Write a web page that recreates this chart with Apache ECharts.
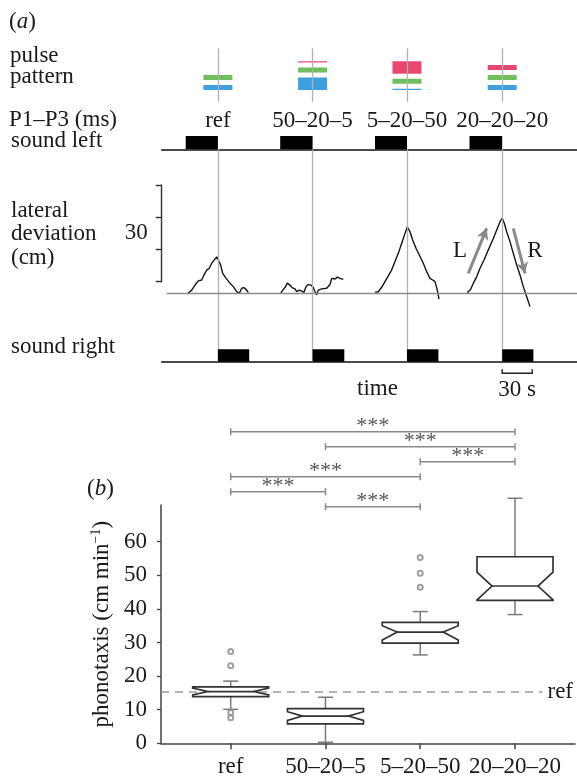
<!DOCTYPE html>
<html><head><meta charset="utf-8">
<script src="https://cdn.jsdelivr.net/npm/echarts@6/dist/echarts.min.js"></script>
<style>html,body{margin:0;padding:0;background:#fff}#c{width:577px;height:780px}</style>
</head><body><div id="c"></div>
<script>
// ---------- data ----------
const categories = ['ref', '50–20–5', '5–20–50', '20–20–20'];
// pulse durations (ms): P1 (blue, bottom), P2 (green), P3 (red, top)
const pulseP1 = [20, 50, 5, 20];
const pulseP2 = [20, 20, 20, 20];
const pulseP3 = [0, 5, 50, 20];
// stimulus timing (s)
const soundLeftStart = [24, 118.5, 213.3, 307.8];
const soundSwitch = [56.2, 150.9, 245.3, 340.5];
const soundRightEnd = [87.5, 182.6, 276.7, 371.7];
// lateral deviation traces [time s, cm]
const traceRef = [[25.6,-0.2],[30.0,1.0],[33.3,2.6],[36.6,3.9],[40.0,4.2],[42.3,5.8],[45.0,7.3],[47.6,7.9],[50.0,9.5],[51.6,10.0],[55.0,11.5],[56.6,10.5],[59.0,8.9],[61.0,6.3],[63.3,5.2],[65.0,4.7],[68.3,3.2],[71.6,2.1],[75.0,0.5],[77.6,0.0],[80.0,1.6],[82.3,1.8],[85.0,1.0],[86.6,0.2]];
const trace50205 = [[119.0,0.0],[121.0,1.0],[123.3,1.8],[125.6,3.2],[128.3,2.6],[130.3,1.8],[133.3,1.4],[135.0,0.5],[137.6,1.0],[140.0,0.7],[142.3,0.3],[144.3,2.1],[146.6,2.8],[149.3,2.6],[151.6,1.8],[153.3,0.5],[155.0,-0.5],[156.6,1.0],[160.0,1.4],[165.0,1.6],[168.3,2.8],[170.0,4.7],[173.3,4.5],[175.6,5.1],[178.3,4.7],[181.6,4.4]];
const trace52050 = [[213.3,0.3],[216.6,0.5],[220.0,1.9],[223.3,3.7],[226.6,5.5],[230.0,7.4],[233.3,10.0],[236.6,12.6],[240.0,15.8],[243.3,18.9],[245.6,21.0],[248.3,19.4],[251.0,16.8],[254.3,14.2],[257.6,12.1],[261.6,9.5],[265.0,6.8],[268.3,4.7],[271.0,4.2],[273.3,3.7],[275.6,1.0],[277.3,-1.8]];
const trace202020 = [[305.6,0.2],[309.0,1.3],[311.6,3.2],[315.0,5.2],[318.3,7.9],[322.3,10.5],[326.6,13.7],[331.0,16.8],[335.0,20.0],[338.3,22.6],[340.6,23.7],[342.6,22.1],[345.0,19.4],[348.3,16.3],[351.6,12.6],[355.0,8.9],[358.3,5.8],[361.6,2.1],[365.0,-1.1],[368.3,-4.2]];
const arrowL = [[306.6, 6.3], [325.0, 20.5]];
const arrowR = [[351.6, 20.5], [363.3, 6.3]];
const scaleBarSeconds = 30;
const scaleBarCm = 30;
// phonotaxis box plot (cm/min)
const whiskerLow  = [10.1, 0.3, 26.3, 38.3];
const q1          = [13.9, 5.8, 29.8, 42.5];
const median      = [15.4, 8.1, 33.1, 46.8];
const q3          = [16.8, 10.3, 36.0, 55.5];
const whiskerHigh = [18.5, 13.7, 39.2, 72.9];
const notchLow    = [14.4, 6.8, 30.7, 42.7];
const notchHigh   = [16.4, 9.4, 35.0, 50.9];
const outliers = [[0,27.3],[0,23.1],[0,9.2],[0,7.6],[2,55.3],[2,50.6],[2,46.4]];
const sigPairs = [[0,3],[1,3],[2,3],[0,2],[0,1],[1,2]];
const sigLabels = ['***','***','***','***','***','***'];
const yTicks = [0, 10, 20, 30, 40, 50, 60];

// ---------- chart ----------
const FONT = '"Liberation Serif", "DejaVu Serif", serif';
const FS = 23;
const TXT = '#1a1a1a';
const chart = echarts.init(document.getElementById('c'), null, {renderer: 'canvas'});

const T_MAX = 415.3;
const COLORS = ['#3d9fdd', '#6fbf5c', '#e9476f'];

const patternData = categories.map((c, i) => [soundSwitch[i], pulseP1[i], pulseP2[i], pulseP3[i], i]);
const leftData = soundLeftStart.map((s, i) => [s, soundSwitch[i]]);
const rightData = soundSwitch.map((s, i) => [s, soundRightEnd[i]]);
const boxData = categories.map((c, i) => [i, whiskerLow[i], q1[i], median[i], q3[i], whiskerHigh[i], notchLow[i], notchHigh[i]]);
const sigData = sigPairs.map((p, i) => [p[0], p[1], i]);
const vLines = soundSwitch.map(v => ({xAxis: v}));

const timeAxis = (gi, showLine) => ({
  gridIndex: gi, type: 'value', min: 0, max: T_MAX,
  show: !!showLine,
  axisLine: {show: !!showLine, onZero: false, lineStyle: {color: '#111', width: 1.5}},
  axisTick: {show: false}, axisLabel: {show: false}, splitLine: {show: false}
});
const hiddenY = (gi, min, max, inverse) => ({gridIndex: gi, type: 'value', min, max, inverse: !!inverse, show: false, splitLine: {show: false}});

const BX_MIN = -0.7355, BX_MAX = 3.633;

const option = {
  backgroundColor: '#fff',
  animation: false,
  grid: [
    {left: 161.7, right: 0, top: 48.3, height: 53.4},   // 0 pulse pattern
    {left: 161.7, right: 0, top: 136, height: 13.3},    // 1 sound left
    {left: 161.7, right: 0, top: 149.3, height: 212.4}, // 2 traces
    {left: 161.7, right: 0, top: 349.3, height: 12.4},  // 3 sound right
    {left: 161.7, right: 0, top: 185, height: 96.7},    // 4 30 cm scale
    {left: 161, right: 2, top: 431.7, height: 75},      // 5 significance
    {left: 161, right: 2, top: 505, height: 238.3}      // 6 box plot
  ],
  xAxis: [
    timeAxis(0, false), timeAxis(1, true), timeAxis(2, false), timeAxis(3, true),
    {gridIndex: 4, type: 'value', min: 0, max: 1, show: false},
    {gridIndex: 5, type: 'value', min: BX_MIN, max: BX_MAX, show: false},
    {gridIndex: 6, type: 'value', min: BX_MIN, max: BX_MAX,
      axisLine: {show: true, onZero: false, lineStyle: {color: '#444', width: 1.5}},
      axisTick: {show: true, customValues: [0,1,2,3], length: 6, lineStyle: {color: '#444', width: 1.5}},
      axisLabel: {show: true, customValues: [0,1,2,3], margin: 12, fontFamily: FONT, fontSize: FS, color: TXT,
        formatter: v => categories[Math.round(v)]},
      splitLine: {show: false}}
  ],
  yAxis: [
    hiddenY(0, -46.8, 166.8),
    hiddenY(1, 0, 1),
    hiddenY(2, -21.58, 45.43),
    hiddenY(3, 0, 1),
    {gridIndex: 4, type: 'value', min: 0, max: scaleBarCm, interval: 10,
      axisLine: {show: true, onZero: false, lineStyle: {color: '#333', width: 1.4}},
      axisTick: {show: true, length: 6, lineStyle: {color: '#333', width: 1.4}},
      axisLabel: {show: false}, splitLine: {show: false},
      name: String(scaleBarCm), nameLocation: 'middle', nameRotate: 0, nameGap: 14,
      nameTextStyle: {fontFamily: FONT, fontSize: FS, color: TXT, align: 'right', verticalAlign: 'middle'}},
    hiddenY(5, 0, 5, true),
    {gridIndex: 6, type: 'value', min: 0, max: 70.9,
      axisLine: {show: true, onZero: false, lineStyle: {color: '#444', width: 1.5}},
      axisTick: {show: true, customValues: yTicks, length: 4, lineStyle: {color: '#444', width: 1.3}},
      axisLabel: {show: true, customValues: yTicks, margin: 14, fontFamily: FONT, fontSize: FS, color: TXT},
      splitLine: {show: false},
      name: 'phonotaxis (cm min{sup|−1})', nameLocation: 'middle', nameGap: 42, nameRotate: 90,
      nameTextStyle: {fontFamily: FONT, fontSize: FS, color: TXT,
        rich: {sup: {fontFamily: FONT, fontSize: 14, color: TXT, verticalAlign: 'top', padding: [0,0,10,0]}}}}
  ],
  series: [
    // vertical switch lines in pattern grid
    {type: 'line', xAxisIndex: 0, yAxisIndex: 0, data: [], z: 1, silent: true,
      markLine: {silent: true, symbol: 'none', label: {show: false},
        lineStyle: {color: '#b0b0b0', width: 1.3, type: 'solid'}, data: vLines}},
    // pulse patterns
    {type: 'custom', xAxisIndex: 0, yAxisIndex: 0, data: patternData, z: 3, silent: true,
      renderItem: (params, api) => {
        const base = api.coord([api.value(0), 0]);
        const cx = base[0];
        let y = base[1];
        const kids = [];
        [1, 2, 3].forEach((d, k) => {
          const ms = api.value(d);
          if (ms > 0) {
            const h = api.size([0, ms])[1];
            kids.push({type: 'rect', shape: {x: cx - 14.5, y: y - h, width: 29, height: h},
              style: {fill: COLORS[k]}});
            y = y - h - 5;
          }
        });
        kids.push({type: 'text', x: cx, y: base[1] + 31,
          style: {text: categories[api.value(4)], fontFamily: FONT, fontSize: FS, fill: TXT,
            align: 'center', verticalAlign: 'middle'}});
        return {type: 'group', children: kids};
      }},
    // sound left blocks
    {type: 'custom', xAxisIndex: 1, yAxisIndex: 1, data: leftData, z: 5, silent: true,
      renderItem: (params, api) => {
        const a = api.coord([api.value(0), 1]), b = api.coord([api.value(1), 0]);
        return {type: 'rect', shape: {x: a[0], y: a[1], width: b[0] - a[0], height: b[1] - a[1]}, style: {fill: '#000'}};
      }},
    // vertical lines, baseline and arrows in trace grid
    {type: 'line', xAxisIndex: 2, yAxisIndex: 2, data: [], z: 1, silent: true,
      markLine: {silent: true, symbol: 'none', label: {show: false},
        lineStyle: {color: '#b0b0b0', width: 1.3, type: 'solid'},
        data: vLines.concat([[{coord: [5, 0], lineStyle: {color: '#8c8c8c', width: 1.3}}, {coord: [T_MAX, 0]}]])}},
    {type: 'line', xAxisIndex: 2, yAxisIndex: 2, data: [], z: 2, silent: true,
      markLine: {silent: true, symbol: ['none', 'arrow'], symbolSize: [9, 11], label: {show: false},
        lineStyle: {color: '#8a8a8a', width: 3, type: 'solid'},
        data: [[{coord: arrowL[0]}, {coord: arrowL[1]}], [{coord: arrowR[0]}, {coord: arrowR[1]}]]}},
    ...[traceRef, trace50205, trace52050, trace202020].map(tr => ({
      type: 'line', xAxisIndex: 2, yAxisIndex: 2, data: tr, showSymbol: false, z: 4, silent: true,
      lineStyle: {color: '#141414', width: 1.4}})),
    // sound right blocks
    {type: 'custom', xAxisIndex: 3, yAxisIndex: 3, data: rightData, z: 10, silent: true,
      renderItem: (params, api) => {
        const a = api.coord([api.value(0), 1]), b = api.coord([api.value(1), 0]);
        return {type: 'rect', shape: {x: a[0], y: a[1], width: b[0] - a[0], height: b[1] - a[1]}, style: {fill: '#000'}};
      }},
    // significance brackets
    {type: 'custom', xAxisIndex: 5, yAxisIndex: 5, data: sigData, silent: true,
      renderItem: (params, api) => {
        const p1 = api.coord([api.value(0), api.value(2)]);
        const p2 = api.coord([api.value(1), api.value(2)]);
        const st = {stroke: '#8a8a8a', lineWidth: 1.5};
        return {type: 'group', children: [
          {type: 'line', shape: {x1: p1[0], y1: p1[1], x2: p2[0], y2: p2[1]}, style: st},
          {type: 'line', shape: {x1: p1[0], y1: p1[1] - 3.5, x2: p1[0], y2: p1[1] + 3.5}, style: st},
          {type: 'line', shape: {x1: p2[0], y1: p2[1] - 3.5, x2: p2[0], y2: p2[1] + 3.5}, style: st},
          {type: 'text', x: (p1[0] + p2[0]) / 2, y: p1[1] + 6,
            style: {text: sigLabels[params.dataIndex], fontFamily: FONT, fontSize: 22, fill: '#555',
              align: 'center', verticalAlign: 'bottom'}}
        ]};
      }},
    // notched box plot
    {type: 'custom', xAxisIndex: 6, yAxisIndex: 6, data: boxData, z: 3, silent: true,
      renderItem: (params, api) => {
        const x = api.value(0);
        const c = v => api.coord([x, v]);
        const hw = 38, ins = 15, cap = 7.5;
        const yWL = c(api.value(1))[1], yQ1 = c(api.value(2))[1], pM = c(api.value(3)),
              yQ3 = c(api.value(4))[1], yWH = c(api.value(5))[1],
              yNL = c(api.value(6))[1], yNH = c(api.value(7))[1];
        const cx = pM[0], yM = pM[1];
        const ws = {stroke: '#7a7a7a', lineWidth: 1.5};
        const bs = {stroke: '#333', lineWidth: 1.7, fill: '#fff'};
        return {type: 'group', children: [
          {type: 'line', shape: {x1: cx, y1: yQ3, x2: cx, y2: yWH}, style: ws},
          {type: 'line', shape: {x1: cx, y1: yQ1, x2: cx, y2: yWL}, style: ws},
          {type: 'line', shape: {x1: cx - cap, y1: yWH, x2: cx + cap, y2: yWH}, style: ws},
          {type: 'line', shape: {x1: cx - cap, y1: yWL, x2: cx + cap, y2: yWL}, style: ws},
          {type: 'polygon', shape: {points: [
            [cx - hw, yQ1], [cx - hw, yNL], [cx - hw + ins, yM], [cx - hw, yNH], [cx - hw, yQ3],
            [cx + hw, yQ3], [cx + hw, yNH], [cx + hw - ins, yM], [cx + hw, yNL], [cx + hw, yQ1]]}, style: bs},
          {type: 'line', shape: {x1: cx - hw + ins, y1: yM, x2: cx + hw - ins, y2: yM}, style: {stroke: '#333', lineWidth: 1.7}}
        ]};
      },
      markLine: {silent: true, symbol: 'none', z: 2,
        lineStyle: {color: '#9a9a9a', width: 1.5, type: [8, 6]},
        label: {show: true, position: 'end', distance: 5, formatter: 'ref', fontFamily: FONT, fontSize: FS, color: TXT},
        data: [[{coord: [BX_MIN, median[0]]}, {coord: [3.29, median[0]]}]]}},
    // outliers
    {type: 'scatter', xAxisIndex: 6, yAxisIndex: 6, data: outliers, symbol: 'emptyCircle', symbolSize: 5,
      silent: true, z: 4, itemStyle: {color: '#888', borderColor: '#888', borderWidth: 1.2}}
  ],
  graphic: [
    {type: 'text', x: 9, y: 22, style: {text: '{n|(}{i|a}{n|)}', verticalAlign: 'middle',
      rich: {n: {fontFamily: FONT, fontSize: FS, fill: TXT}, i: {fontFamily: FONT, fontSize: FS, fontStyle: 'italic', fill: TXT}}}},
    {type: 'text', x: 10, y: 56, style: {text: 'pulse', fontFamily: FONT, fontSize: FS, fill: TXT, verticalAlign: 'middle'}},
    {type: 'text', x: 10, y: 77, style: {text: 'pattern', fontFamily: FONT, fontSize: FS, fill: TXT, verticalAlign: 'middle'}},
    {type: 'text', x: 9, y: 120, style: {text: 'P1–P3 (ms)', fontFamily: FONT, fontSize: FS, fill: TXT, verticalAlign: 'middle'}},
    {type: 'text', x: 11, y: 141, style: {text: 'sound left', fontFamily: FONT, fontSize: FS, fill: TXT, verticalAlign: 'middle'}},
    {type: 'text', x: 11, y: 211, style: {text: 'lateral', fontFamily: FONT, fontSize: FS, fill: TXT, verticalAlign: 'middle'}},
    {type: 'text', x: 11, y: 234, style: {text: 'deviation', fontFamily: FONT, fontSize: FS, fill: TXT, verticalAlign: 'middle'}},
    {type: 'text', x: 11, y: 258, style: {text: '(cm)', fontFamily: FONT, fontSize: FS, fill: TXT, verticalAlign: 'middle'}},
    {type: 'text', x: 11, y: 347, style: {text: 'sound right', fontFamily: FONT, fontSize: FS, fill: TXT, verticalAlign: 'middle'}},
    {type: 'text', x: 377.5, y: 389, style: {text: 'time', fontFamily: FONT, fontSize: FS, fill: TXT, align: 'center', verticalAlign: 'middle'}},
    {type: 'text', x: 460, y: 251, style: {text: 'L', fontFamily: FONT, fontSize: FS, fill: TXT, align: 'center', verticalAlign: 'middle'}},
    {type: 'text', x: 535, y: 251, style: {text: 'R', fontFamily: FONT, fontSize: FS, fill: TXT, align: 'center', verticalAlign: 'middle'}},
    {type: 'text', x: 87, y: 489, style: {text: '{n|(}{i|b}{n|)}', verticalAlign: 'middle',
      rich: {n: {fontFamily: FONT, fontSize: FS, fill: TXT}, i: {fontFamily: FONT, fontSize: FS, fontStyle: 'italic', fill: TXT}}}}
  ]
};
chart.setOption(option);

// 30 s time scale bar, positioned through the time axis of the sound-right grid
const sx1 = chart.convertToPixel({xAxisIndex: 3}, soundSwitch[3]);
const sx2 = chart.convertToPixel({xAxisIndex: 3}, soundSwitch[3] + scaleBarSeconds);
const sy = chart.convertToPixel({yAxisIndex: 3}, 0) + 11.6;
option.graphic.push(
  {type: 'polyline', shape: {points: [[sx1, sy - 4], [sx1, sy], [sx2, sy], [sx2, sy - 4]]},
    style: {stroke: '#222', lineWidth: 1.4, fill: null}},
  {type: 'text', x: (sx1 + sx2) / 2, y: sy + 17, style: {text: scaleBarSeconds + ' s', fontFamily: FONT, fontSize: FS, fill: TXT, align: 'center', verticalAlign: 'middle'}}
);
chart.setOption({graphic: option.graphic});
</script></body></html>
